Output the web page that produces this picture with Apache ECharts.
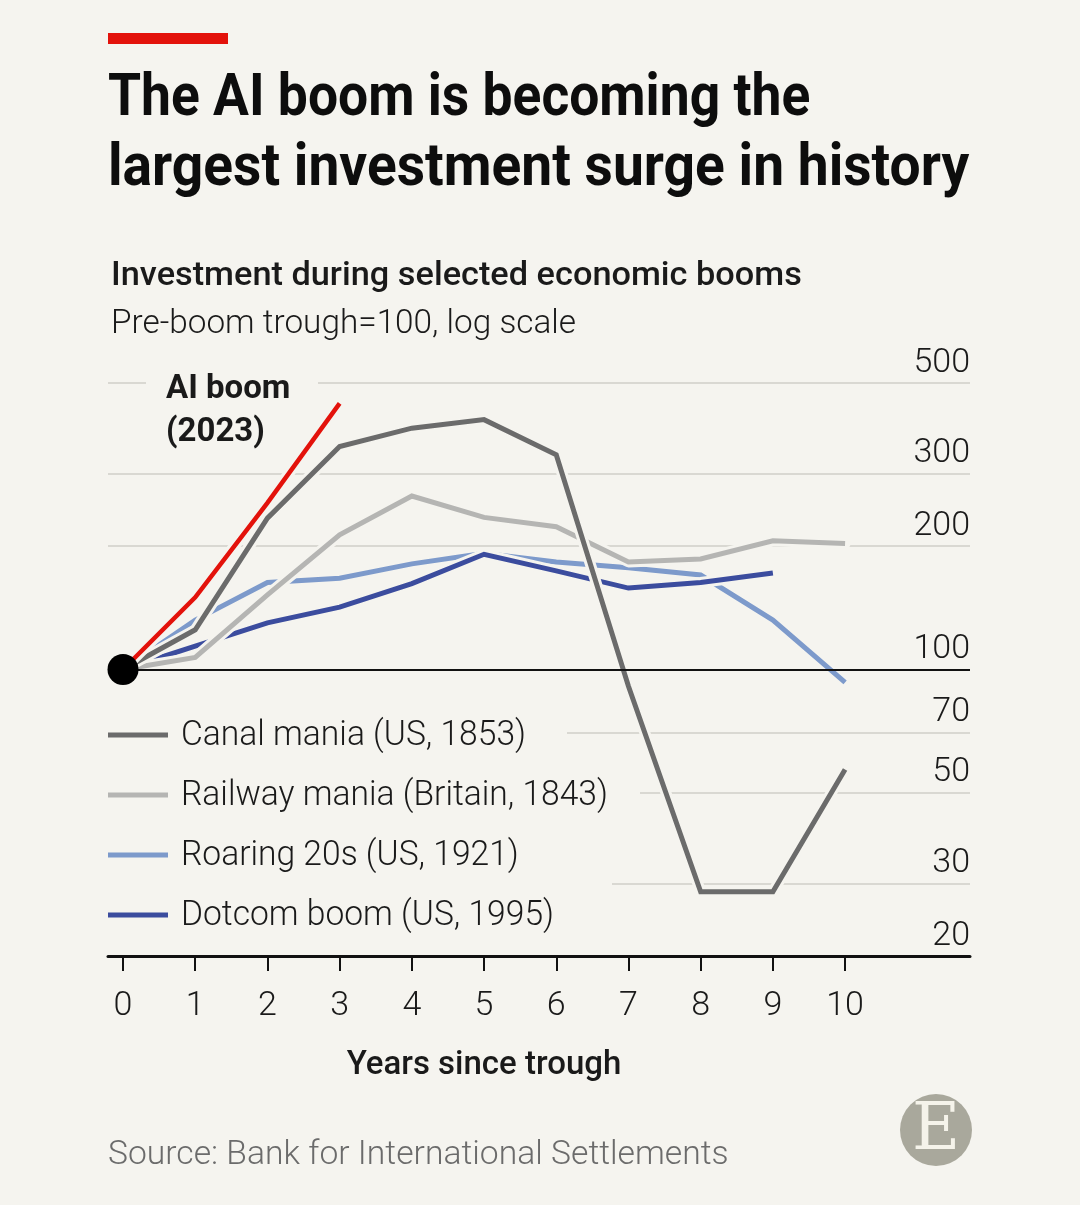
<!DOCTYPE html>
<html>
<head>
<meta charset="utf-8">
<script src="https://cdn.jsdelivr.net/npm/echarts@6/dist/echarts.min.js"></script>
<style>
  html, body { margin: 0; padding: 0; width: 100%; height: 100%; background: #f5f4ef; }
  #chart { width: 1080px; height: 1205px; }
</style>
</head>
<body>
<div id="chart"></div>
<script>
// years since trough, y-axis ticks
var years = [0, 1, 2, 3, 4, 5, 6, 7, 8, 9, 10];
var yTicks = [20, 30, 50, 70, 100, 200, 300, 500];

// investment index, pre-boom trough = 100
var canal   = [100, 125, 234, 350, 388, 407, 334, 91, 28.7, 28.7, 57];
var railway = [100, 107, 152, 213, 265, 235, 223, 183, 186, 206, 203];
var roaring = [100, 132, 163, 167, 181, 192, 183, 177, 170, 132, 93];
var dotcom  = [100, 114, 130, 142, 162, 191, 174, 158, 163, 172];
var aiBoom  = [100, 150, 255, 446];

var names  = ['Canal mania (US, 1853)', 'Railway mania (Britain, 1843)', 'Roaring 20s (US, 1921)', 'Dotcom boom (US, 1995)'];
var colors = ['#6b6b6b', '#b5b5b3', '#7d9acb', '#3b4c9e'];
var aiColor = '#e3120b';
var bg = '#f5f4ef';
var font = 'Roboto, "Noto Sans", sans-serif';

function pairs(arr) {
  return arr.map(function (v, i) { return [years[i], v]; });
}

// draw bottom -> top: roaring, dotcom, railway, canal, AI
var order = [
  { name: names[2], data: roaring, color: colors[2] },
  { name: names[3], data: dotcom,  color: colors[3] },
  { name: names[1], data: railway, color: colors[1] },
  { name: names[0], data: canal,   color: colors[0] },
  { name: 'AI boom (2023)', data: aiBoom, color: aiColor, width: 4.5 }
];

var series = [];
order.forEach(function (s, k) {
  // halo underneath each line
  var halo = {
    name: s.name + ' halo',
    type: 'line',
    data: pairs(s.data),
    symbol: 'none',
    silent: true,
    lineStyle: { color: bg, width: 11, cap: 'round' },
    z: 3
  };
  if (k === 0) {
    halo.markLine = {
      silent: true,
      symbol: ['none', 'none'],
      label: { show: false },
      lineStyle: { color: '#111', width: 2, type: 'solid' },
      data: [{ yAxis: 100 }]
    };
  }
  series.push(halo);
  series.push({
    name: s.name,
    type: 'line',
    data: pairs(s.data),
    symbol: 'none',
    lineStyle: { color: s.color, width: s.width || 5, join: 'miter' },
    z: 3
  });
});

series.push({
  name: 'trough',
  type: 'scatter',
  data: [[0, 100]],
  symbolSize: 31,
  itemStyle: { color: '#000', opacity: 1 },
  z: 5
});

var graphics = [
  { type: 'rect', shape: { x: 108, y: 33, width: 120, height: 11 }, style: { fill: aiColor } },
  { type: 'text', x: 108, y: 100, scaleX: 0.905, style: { text: 'The AI boom is becoming the', font: 'bold 59px ' + font, fill: '#0d0d0d', verticalAlign: 'middle' } },
  { type: 'text', x: 108, y: 170, scaleX: 0.935, style: { text: 'largest investment surge in history', font: 'bold 59px ' + font, fill: '#0d0d0d', verticalAlign: 'middle' } },
  { type: 'text', x: 111, y: 277, scaleX: 1.04, style: { text: 'Investment during selected economic booms', font: '500 33px ' + font, fill: '#1a1a1a', verticalAlign: 'middle' } },
  { type: 'text', x: 111, y: 325, scaleX: 1.01, style: { text: 'Pre-boom trough=100, log scale', font: '300 33px ' + font, fill: '#1a1a1a', verticalAlign: 'middle' } },
  // masks breaking gridlines around labels
  { type: 'rect', z: 10, shape: { x: 146, y: 376, width: 172, height: 14 }, style: { fill: bg } },
  { type: 'rect', z: 10, shape: { x: 100, y: 728, width: 467, height: 12 }, style: { fill: bg } },
  { type: 'rect', z: 10, shape: { x: 100, y: 788, width: 540, height: 12 }, style: { fill: bg } },
  { type: 'rect', z: 10, shape: { x: 100, y: 879, width: 512, height: 12 }, style: { fill: bg } },
  { type: 'text', z: 11, x: 166, y: 390, style: { text: 'AI boom', font: 'bold 33px ' + font, fill: '#1a1a1a', verticalAlign: 'middle' } },
  { type: 'text', z: 11, x: 166, y: 433, style: { text: '(2023)', font: 'bold 33px ' + font, fill: '#1a1a1a', verticalAlign: 'middle' } },
  { type: 'text', z: 11, x: 484, y: 1066, scaleX: 1.0, style: { text: 'Years since trough', font: '500 33px ' + font, fill: '#1a1a1a', align: 'center', verticalAlign: 'middle' } },
  { type: 'text', z: 11, x: 108, y: 1156, scaleX: 1.02, style: { text: 'Source: Bank for International Settlements', font: '300 33px ' + font, fill: '#6b6b6b', verticalAlign: 'middle' } },
  { type: 'circle', z: 11, shape: { cx: 936, cy: 1130, r: 36 }, style: { fill: '#a9a89c' } },
  { type: 'text', z: 12, x: 936, y: 1132, style: { text: 'E', font: '66px "DejaVu Serif", "Liberation Serif", serif', fill: '#f5f3ea', align: 'center', verticalAlign: 'middle' } }
];
// legend drawn as graphics
names.forEach(function (n, i) {
  var y = 735 + i * 60;
  graphics.push({ type: 'rect', z: 11, shape: { x: 108, y: y - 2.5, width: 60, height: 5 }, style: { fill: colors[i] } });
  graphics.push({ type: 'text', z: 11, x: 181, y: y + 1, scaleX: 0.96, style: { text: n, font: '300 35px ' + font, fill: '#1a1a1a', verticalAlign: 'middle' } });
});

var option = {
  backgroundColor: bg,
  animation: false,
  grid: { left: 108, right: 110, top: 383, bottom: 249 },
  xAxis: {
    type: 'value',
    min: -0.208,
    max: 11.73,
    axisLine: { show: true, onZero: false, lineStyle: { color: '#111', width: 3 } },
    axisTick: { show: true, customValues: years, length: 15, lineStyle: { color: '#111', width: 2 } },
    axisLabel: { customValues: years, margin: 33, fontSize: 34, fontWeight: 300, fontFamily: font, color: '#1a1a1a' },
    splitLine: { show: false }
  },
  yAxis: {
    type: 'log',
    logBase: 10,
    min: 20,
    max: 500,
    position: 'right',
    axisLine: { show: false },
    axisTick: { show: false, customValues: yTicks },
    axisLabel: {
      customValues: yTicks,
      inside: true,
      margin: 0,
      verticalAlign: 'bottom',
      padding: [0, 0, 3, 0],
      fontSize: 34,
      fontWeight: 300,
      fontFamily: font,
      color: '#1a1a1a'
    },
    splitLine: { show: true, lineStyle: { color: '#d9d8d2', width: 2 } }
  },
  graphic: graphics,
  series: series
};

var myChart = echarts.init(document.getElementById('chart'));
myChart.setOption(option);
</script>
</body>
</html>
